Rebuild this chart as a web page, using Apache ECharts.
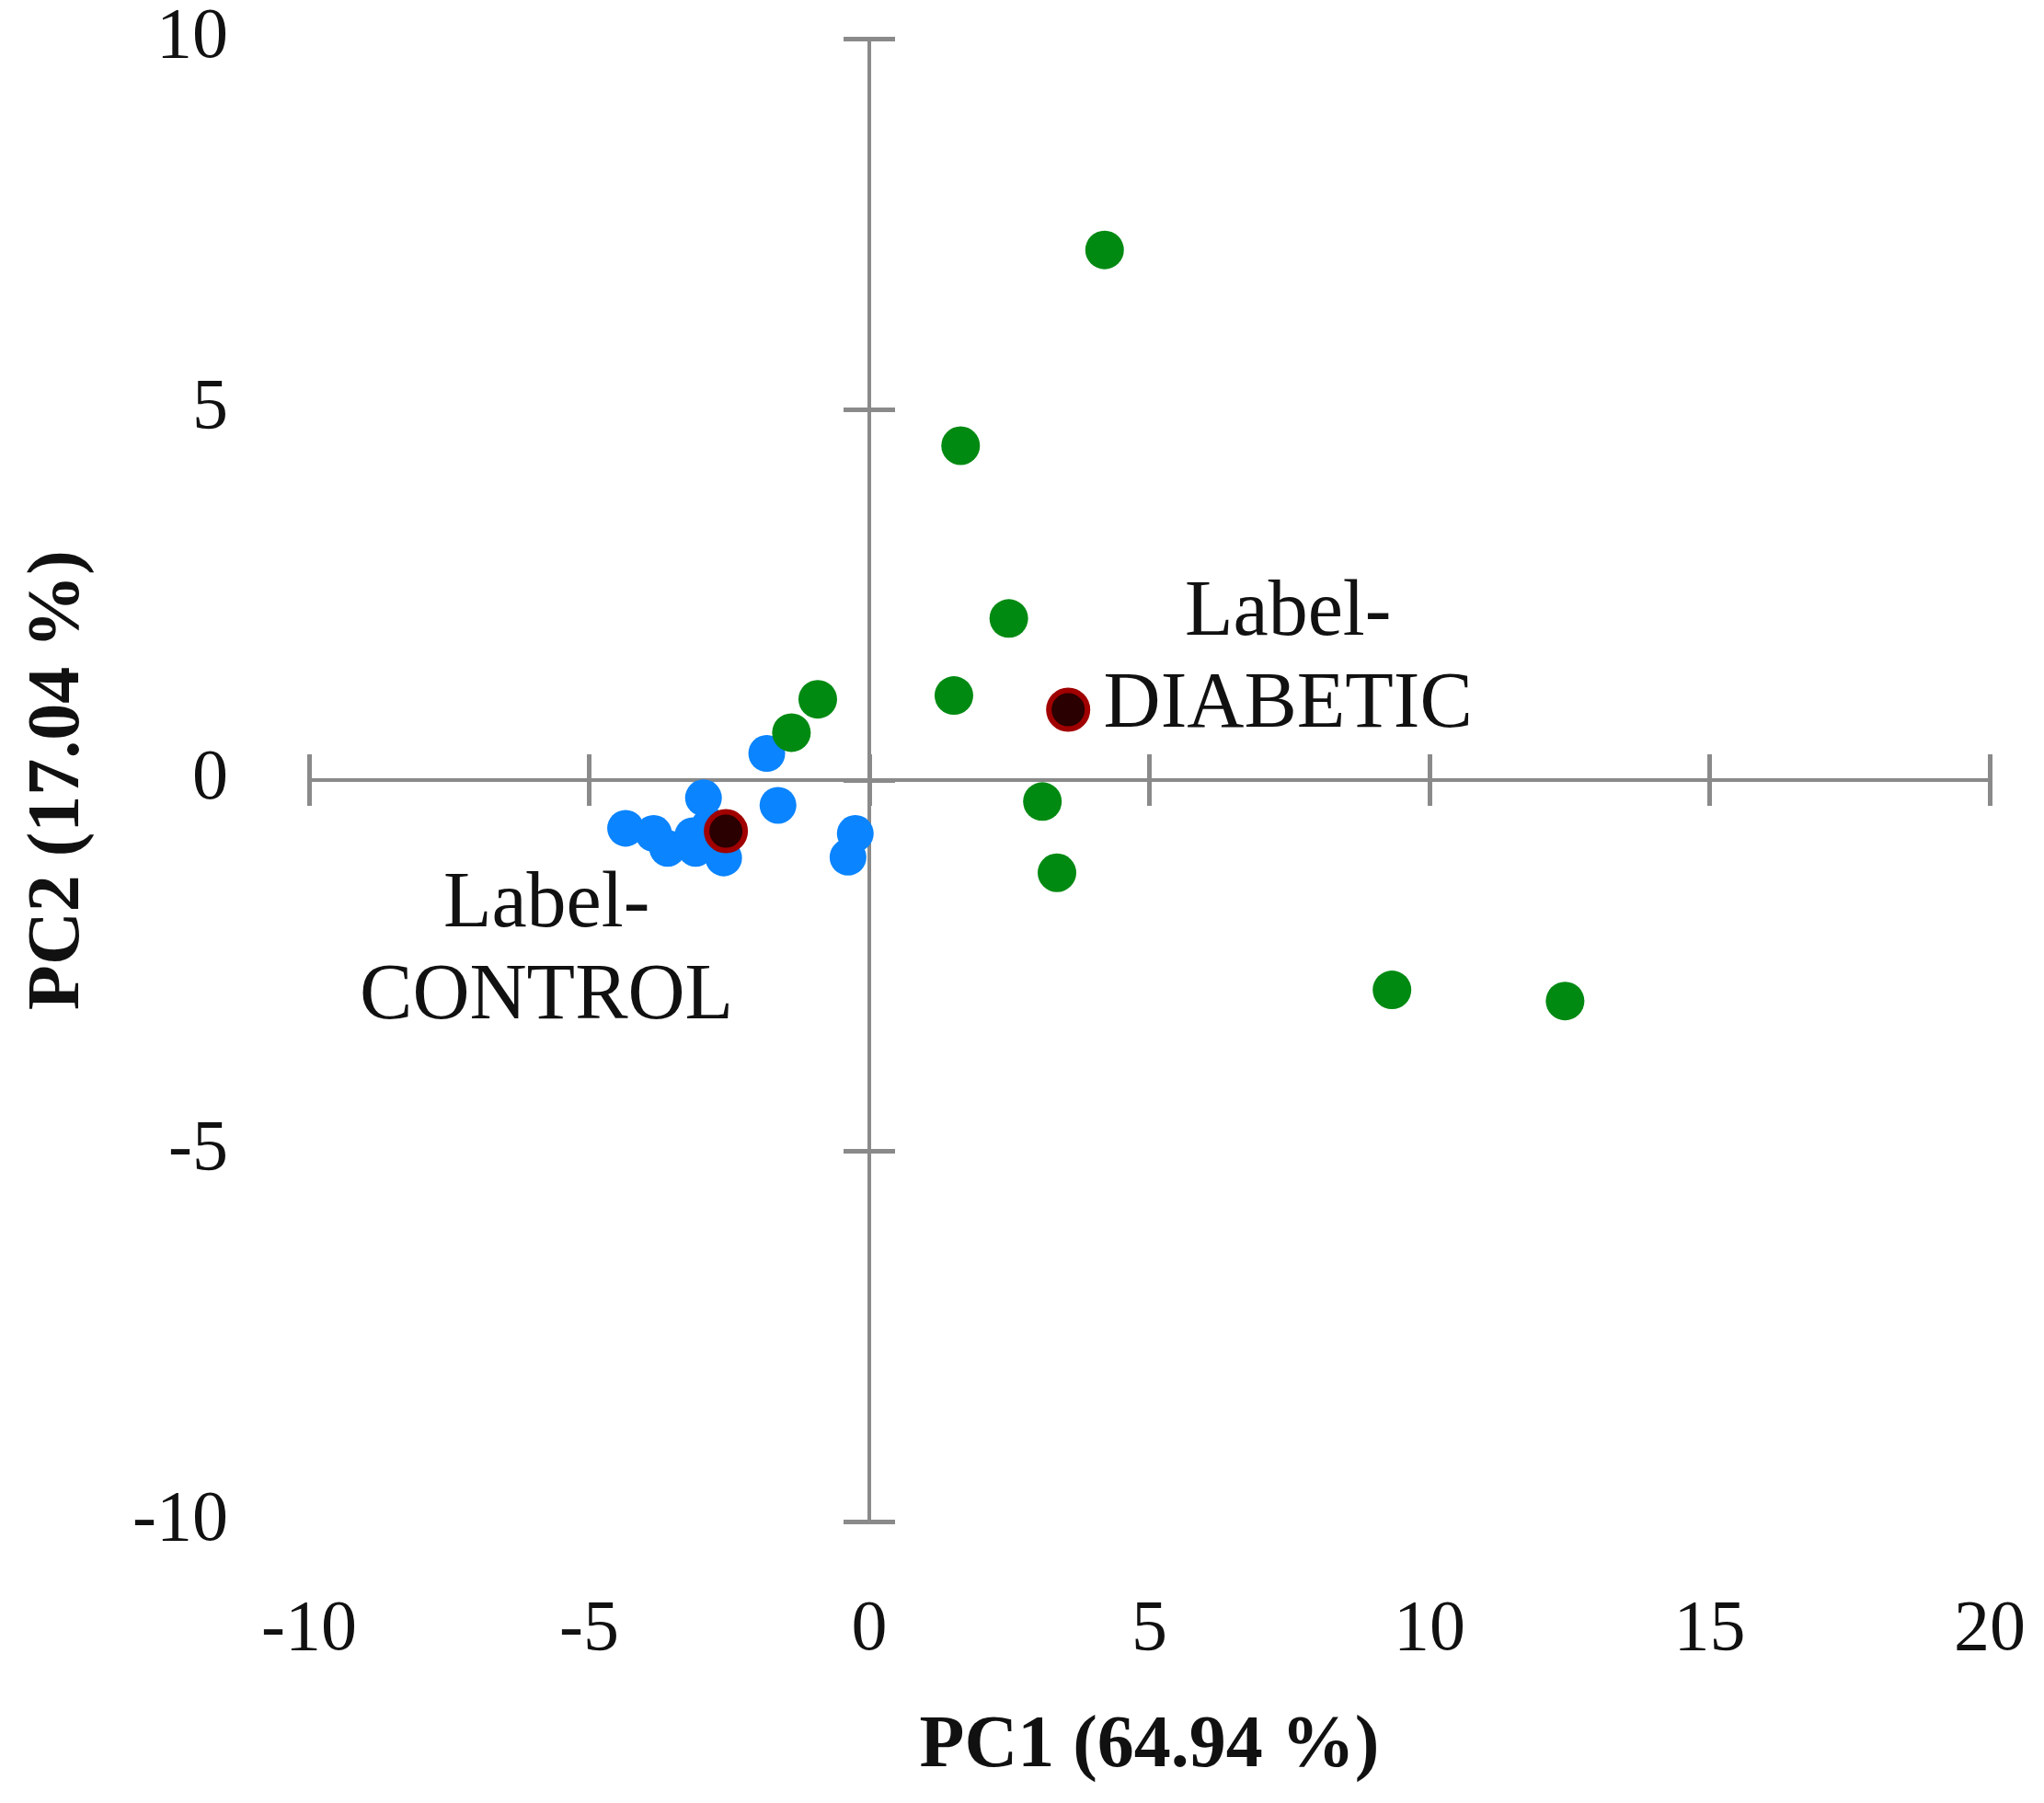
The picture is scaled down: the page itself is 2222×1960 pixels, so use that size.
<!DOCTYPE html>
<html>
<head>
<meta charset="utf-8">
<script src="https://cdn.jsdelivr.net/npm/echarts@6/dist/echarts.min.js"></script>
<style>html,body{margin:0;padding:0;background:#fff}#c{width:2222px;height:1960px}</style>
</head>
<body>
<div id="c"></div>
<script>
var xTicks = [-10, -5, 0, 5, 10, 15, 20];
var yTicks = [-10, -5, 0, 5, 10];
var xTitle = 'PC1 (64.94 %)';
var yTitle = 'PC2 (17.04 %)';
var controlPoints = [
  [-4.35, -0.65], [-3.85, -0.72], [-3.6, -0.92], [-3.15, -0.75], [-3.1, -0.92],
  [-2.6, -1.05], [-2.85, -0.62], [-2.96, -0.24], [-1.83, 0.36], [-1.63, -0.34],
  [-0.25, -0.72], [-0.38, -1.04]
];
var diabeticPoints = [
  [4.2, 7.15], [1.63, 4.51], [2.49, 2.18], [1.51, 1.14], [-0.92, 1.09],
  [-1.39, 0.64], [3.09, -0.29], [3.35, -1.25], [9.33, -2.83], [12.42, -2.98]
];
var controlCentroid = [-2.56, -0.69];
var diabeticCentroid = [3.55, 0.95];
var controlLabel = 'Label-\nCONTROL';
var diabeticLabel = 'Label-\nDIABETIC';

var serif = '"Liberation Serif", "DejaVu Serif", serif';
var axisColor = '#8a8a8a';
var xMin = xTicks[0], xMax = xTicks[xTicks.length - 1];
var yMin = yTicks[0], yMax = yTicks[yTicks.length - 1];
var chart = echarts.init(document.getElementById('c'));

var gridRect = { left: 336, right: 59, top: 42, bottom: 306, containLabel: false };

function lineAxis(gridIndex, pos, min, max, showLine) {
  return {
    type: 'value', gridIndex: gridIndex, position: pos, min: min, max: max, interval: 5,
    axisLine: { show: showLine, onZero: true, lineStyle: { color: axisColor, width: 4 } },
    axisTick: { show: true, inside: false, length: 28, lineStyle: { color: axisColor, width: 5 } },
    axisLabel: { show: false },
    splitLine: { show: false }
  };
}
function labelAxis(pos, min, max, margin, name, nameGap, padding) {
  return {
    type: 'value', gridIndex: 0, position: pos, min: min, max: max, interval: 5,
    axisLine: { show: false, onZero: false },
    axisTick: { show: false },
    splitLine: { show: false },
    axisLabel: { show: true, margin: margin, fontFamily: serif, fontSize: 78, color: '#111', padding: padding },
    name: name, nameLocation: 'middle', nameGap: nameGap,
    nameTextStyle: { fontFamily: serif, fontSize: 80, fontWeight: 'bold', color: '#111' }
  };
}

chart.setOption({
  animation: false,
  backgroundColor: '#fff',
  grid: [Object.assign({}, gridRect), Object.assign({}, gridRect)],
  xAxis: [
    labelAxis('bottom', xMin, xMax, 80, xTitle, 205, 0),
    lineAxis(1, 'bottom', xMin, xMax, true),
    lineAxis(1, 'top', xMin, xMax, false)
  ],
  yAxis: [
    labelAxis('left', yMin, yMax, 88, yTitle, 232, [18, 0, 0, 0]),
    lineAxis(1, 'left', yMin, yMax, true),
    lineAxis(1, 'right', yMin, yMax, false)
  ],
  series: [
    { type: 'scatter', xAxisIndex: 1, yAxisIndex: 1, data: controlPoints, symbolSize: 40,
      itemStyle: { color: '#0a84ff', opacity: 1 } },
    { type: 'scatter', xAxisIndex: 1, yAxisIndex: 1, data: diabeticPoints, symbolSize: 42,
      itemStyle: { color: '#008a12', opacity: 1 } },
    { type: 'scatter', xAxisIndex: 1, yAxisIndex: 1, symbolSize: 42,
      itemStyle: { color: '#2a0000', borderColor: '#a00000', borderWidth: 6, opacity: 1 },
      data: [
        { value: controlCentroid,
          label: { show: true, position: 'inside', offset: [-195, 131], formatter: controlLabel,
            fontFamily: serif, fontSize: 86, lineHeight: 100, color: '#111', align: 'center', verticalAlign: 'middle' } },
        { value: diabeticCentroid,
          label: { show: true, position: 'inside', offset: [239, -54], formatter: diabeticLabel,
            fontFamily: serif, fontSize: 86, lineHeight: 100, color: '#111', align: 'center', verticalAlign: 'middle' } }
      ] }
  ]
});
</script>
</body>
</html>
